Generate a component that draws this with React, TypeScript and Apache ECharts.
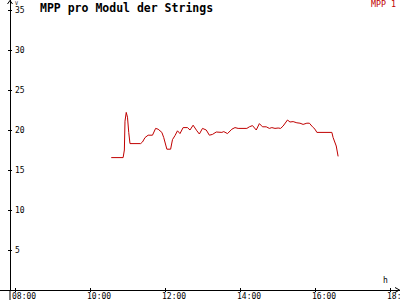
import React, { useEffect, useRef } from "react";
import * as echarts from "echarts";

const times = [
  "10:34", "10:53", "10:55", "10:56", "10:58", "11:00", "11:02", "11:04", "11:21", "11:24",
  "11:28", "11:33", "11:40", "11:45", "11:49", "11:55", "11:58", "12:03", "12:09", "12:12",
  "12:16", "12:20", "12:24", "12:29", "12:36", "12:40", "12:45", "12:51", "12:55", "13:00",
  "13:06", "13:11", "13:16", "13:22", "13:31", "13:34", "13:40", "13:47", "13:52", "13:57",
  "14:11", "14:15", "14:20", "14:26", "14:31", "14:36", "14:42", "14:47", "14:51", "14:56",
  "15:01", "15:05", "15:09", "15:16", "15:20", "15:25", "15:31", "15:36", "15:41", "15:47",
  "15:51", "15:56", "16:00", "16:03", "16:27", "16:29", "16:34", "16:37",
];
const values = [
  16.55, 16.55, 17.5, 21.1, 22.2, 21.6, 19.7, 18.3, 18.3, 18.5,
  19.05, 19.35, 19.35, 20.2, 20.1, 19.7, 19.05, 17.6, 17.6, 18.8,
  19.3, 19.9, 19.55, 20.3, 20.3, 20.0, 20.6, 19.9, 19.5, 20.2,
  20.0, 19.35, 19.45, 19.75, 19.7, 19.8, 19.55, 20.1, 20.3, 20.2,
  20.2, 20.4, 20.55, 20.0, 20.8, 20.4, 20.4, 20.2, 20.3, 20.2,
  20.25, 20.2, 20.5, 21.25, 21.0, 21.05, 20.9, 20.85, 20.7, 20.85,
  20.85, 20.4, 20.1, 19.7, 19.7, 19.05, 18.0, 16.7,
];
const xTickHours = [8, 10, 12, 14, 16, 18];
const yTickValues = [5, 10, 15, 20, 25, 30, 35];
const seriesName = "MPP 1";
const titleText = "MPP pro Modul der Strings";

export default function App() {
  const ref = useRef<HTMLDivElement>(null);
  useEffect(() => {
    const chart = echarts.init(ref.current!, null, { renderer: "svg" });
    const toH = (t: string) => {
      const [h, m] = t.split(":").map(Number);
      return h + m / 60;
    };
    const data = times.map((t, i) => [toH(t), values[i]]);
    const font = "DejaVu Sans Mono";
    const red = "#c00000";
    const xMin = 7.6;
    const xMax = 18.2667;
    const yMin = 0;
    const yMax = 36.25;
    const fmtX = (v: number) => String(Math.round(v)).padStart(2, "0") + ":00";

    chart.setOption({
      animation: false,
      backgroundColor: "#fff",
      title: {
        text: titleText,
        left: 40,
        top: 2,
        padding: 0,
        textStyle: { fontFamily: font, fontSize: 11.5, fontWeight: "bold", color: "#000" },
      },
      legend: {
        data: [seriesName],
        right: 4,
        top: 0,
        padding: 0,
        icon: "none",
        itemWidth: 0,
        itemHeight: 0,
        itemGap: 0,
        itemStyle: { opacity: 0 },
        lineStyle: { opacity: 0, width: 0 },
        textStyle: { color: red, fontFamily: font, fontSize: 8.3, padding: 0 },
      },
      grid: { left: 0, right: 0, top: 0, bottom: 10, containLabel: false, outerBoundsMode: "none" },
      xAxis: [
        {
          type: "value",
          min: xMin,
          max: xMax,
          splitLine: { show: false },
          axisLine: { show: true, onZero: false, lineStyle: { color: "#000", width: 1 } },
          axisTick: { show: true, length: 2, customValues: xTickHours, lineStyle: { color: "#000" } },
          axisLabel: {
            customValues: xTickHours.map((h) => h - 0.08),
            formatter: fmtX,
            align: "left",
            margin: 2,
            fontFamily: font,
            fontSize: 8,
            color: "#000",
          },
        },
        {
          type: "value",
          position: "bottom",
          min: xMin,
          max: xMax,
          splitLine: { show: false },
          axisLine: { show: false, onZero: false },
          axisTick: { show: true, inside: true, length: 2, customValues: xTickHours, lineStyle: { color: "#000" } },
          axisLabel: { show: false },
        },
      ],
      yAxis: [
        {
          type: "value",
          min: yMin,
          max: yMax,
          offset: -10,
          splitLine: { show: false },
          axisLine: { show: true, onZero: false, lineStyle: { color: "#000", width: 1 } },
          axisTick: { show: true, length: 2, customValues: yTickValues, lineStyle: { color: "#000" } },
          axisLabel: {
            inside: true,
            customValues: yTickValues,
            margin: 5,
            fontFamily: font,
            fontSize: 8,
            color: "#000",
          },
        },
        {
          type: "value",
          position: "left",
          min: yMin,
          max: yMax,
          offset: -10,
          splitLine: { show: false },
          axisLine: { show: false, onZero: false },
          axisTick: { show: true, inside: true, length: 2, customValues: yTickValues, lineStyle: { color: "#000" } },
          axisLabel: { show: false },
        },
      ],
      graphic: [
        {
          type: "line",
          shape: { x1: 10, y1: 290, x2: 10, y2: 300 },
          style: { stroke: "#000", lineWidth: 1 },
        },
        {
          type: "polyline",
          shape: { points: [[7.5, 4], [10, 0.5], [12.5, 4]] },
          style: { stroke: "#000", fill: "none", lineWidth: 1 },
        },
        {
          type: "polyline",
          shape: { points: [[395, 287.5], [399.5, 290], [395, 292.5]] },
          style: { stroke: "#000", fill: "none", lineWidth: 1 },
        },
        {
          type: "text",
          x: 15,
          y: 0,
          style: { text: "V", fontFamily: font, fontSize: 5, fill: "#000" },
        },
        {
          type: "text",
          x: 383,
          y: 276,
          style: { text: "h", fontFamily: font, fontSize: 8, fill: "#000" },
        },
      ],
      series: [
        {
          name: seriesName,
          type: "line",
          xAxisIndex: 0,
          yAxisIndex: 0,
          data,
          showSymbol: false,
          symbol: "none",
          lineStyle: { color: red, width: 1 },
          itemStyle: { color: red },
        },
      ],
    });
    return () => chart.dispose();
  }, []);
  return <div ref={ref} style={{ position: "fixed", left: 0, top: 0, width: 400, height: 300 }} />;
}
